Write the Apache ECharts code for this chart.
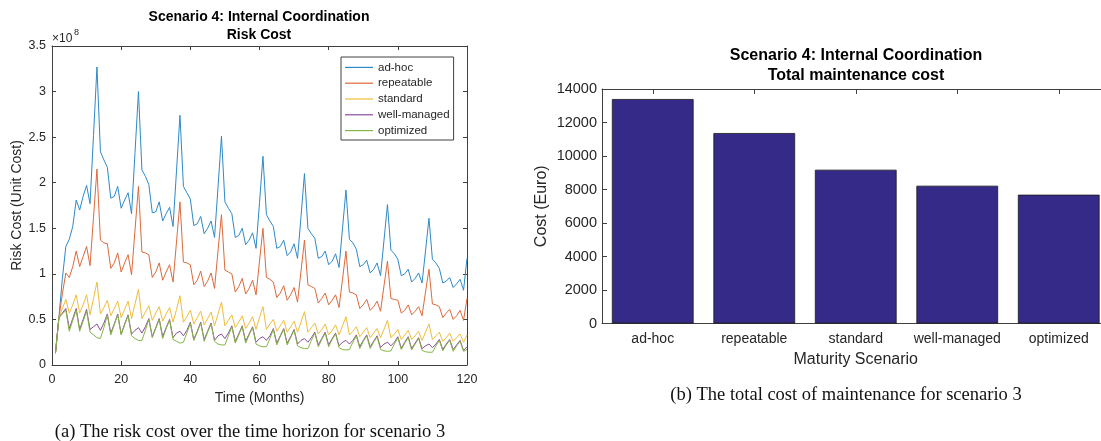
<!DOCTYPE html>
<html><head><meta charset="utf-8">
<script src="https://cdn.jsdelivr.net/npm/echarts@6/dist/echarts.min.js"></script>
<style>html,body{margin:0;padding:0;background:#fff}#c{width:1101px;height:441px}</style>
</head><body><div id="c"></div>
<script>
// ---- Left chart: risk cost (units of 1e8) per month 1..120 ----
const seriesNames = ['ad-hoc', 'repeatable', 'standard', 'well-managed', 'optimized'];
const adHoc = [
  0.13,0.52,0.95,1.30,1.38,1.52,1.81,1.70,1.85,1.97,1.77,2.52,
  3.27,2.34,2.25,2.17,1.83,1.85,1.96,1.72,1.81,1.89,1.66,2.33,
  3.00,2.14,2.07,1.98,1.67,1.68,1.79,1.58,1.66,1.73,1.52,2.13,
  2.74,1.96,1.89,1.82,1.53,1.55,1.63,1.44,1.50,1.58,1.40,1.95,
  2.51,1.79,1.72,1.66,1.40,1.42,1.50,1.32,1.37,1.45,1.28,1.78,
  2.29,1.65,1.58,1.52,1.28,1.30,1.37,1.20,1.24,1.33,1.17,1.63,
  2.10,1.50,1.44,1.39,1.17,1.19,1.25,1.10,1.14,1.22,1.07,1.50,
  1.92,1.38,1.34,1.27,1.08,1.10,1.15,1.01,1.05,1.12,0.98,1.37,
  1.76,1.26,1.22,1.16,0.98,1.00,1.05,0.91,0.95,1.01,0.90,1.25,
  1.61,1.16,1.12,1.06,0.90,0.92,0.96,0.85,0.89,0.94,0.82,1.17];
const repeatable = [
  0.13,0.52,0.78,1.01,0.96,1.08,1.25,1.08,1.19,1.30,1.09,1.62,
  2.15,1.37,1.34,1.33,1.06,1.12,1.23,1.02,1.12,1.21,0.99,1.48,
  1.96,1.24,1.23,1.21,0.96,1.02,1.12,0.93,1.02,1.10,0.91,1.35,
  1.79,1.13,1.12,1.10,0.88,0.93,1.03,0.86,0.92,1.01,0.84,1.25,
  1.65,1.04,1.02,1.00,0.80,0.86,0.95,0.78,0.84,0.93,0.77,1.14,
  1.50,0.96,0.94,0.91,0.74,0.79,0.87,0.71,0.77,0.85,0.69,1.03,
  1.37,0.88,0.86,0.84,0.68,0.73,0.79,0.66,0.71,0.77,0.63,0.94,
  1.25,0.80,0.79,0.77,0.62,0.66,0.72,0.60,0.64,0.70,0.59,0.87,
  1.14,0.73,0.72,0.71,0.57,0.60,0.66,0.55,0.59,0.64,0.54,0.80,
  1.05,0.67,0.66,0.64,0.52,0.57,0.61,0.50,0.54,0.60,0.49,0.73];
const standard = [
  0.13,0.52,0.62,0.72,0.57,0.66,0.77,0.57,0.66,0.77,0.55,0.73,
  0.91,0.56,0.63,0.71,0.54,0.62,0.70,0.52,0.61,0.70,0.51,0.67,
  0.83,0.51,0.58,0.65,0.49,0.57,0.64,0.48,0.56,0.63,0.47,0.61,
  0.76,0.47,0.53,0.60,0.45,0.52,0.59,0.44,0.51,0.58,0.43,0.56,
  0.69,0.43,0.49,0.55,0.41,0.47,0.54,0.40,0.46,0.53,0.39,0.52,
  0.64,0.39,0.45,0.50,0.37,0.43,0.49,0.36,0.42,0.48,0.36,0.47,
  0.585,0.36,0.41,0.46,0.34,0.39,0.45,0.33,0.38,0.44,0.33,0.43,
  0.53,0.33,0.37,0.42,0.31,0.36,0.41,0.30,0.35,0.40,0.30,0.39,
  0.49,0.30,0.34,0.39,0.28,0.33,0.38,0.28,0.32,0.37,0.27,0.36,
  0.45,0.28,0.32,0.36,0.26,0.30,0.35,0.26,0.30,0.34,0.25,0.33];
const wellManaged = [
  0.13,0.52,0.57,0.62,0.40,0.51,0.62,0.39,0.50,0.61,0.39,0.42,
  0.45,0.38,0.46,0.56,0.35,0.45,0.56,0.34,0.45,0.55,0.34,0.38,
  0.41,0.35,0.42,0.51,0.31,0.41,0.51,0.31,0.41,0.50,0.30,0.35,
  0.37,0.32,0.38,0.47,0.28,0.37,0.47,0.28,0.37,0.46,0.27,0.32,
  0.34,0.29,0.35,0.43,0.26,0.34,0.43,0.26,0.34,0.42,0.25,0.29,
  0.31,0.27,0.32,0.40,0.24,0.32,0.40,0.24,0.31,0.39,0.23,0.27,
  0.29,0.25,0.30,0.36,0.22,0.29,0.36,0.22,0.29,0.35,0.21,0.25,
  0.27,0.23,0.27,0.33,0.20,0.27,0.33,0.20,0.26,0.32,0.19,0.23,
  0.25,0.21,0.25,0.31,0.185,0.25,0.31,0.18,0.24,0.30,0.18,0.21,
  0.23,0.19,0.23,0.28,0.17,0.23,0.28,0.17,0.22,0.27,0.16,0.20];
const optimized = [
  0.13,0.52,0.56,0.60,0.37,0.49,0.60,0.37,0.48,0.59,0.36,0.33,
  0.30,0.29,0.41,0.55,0.33,0.44,0.55,0.33,0.44,0.54,0.32,0.29,
  0.27,0.27,0.38,0.50,0.30,0.40,0.50,0.29,0.40,0.49,0.28,0.26,
  0.24,0.25,0.35,0.46,0.27,0.36,0.46,0.26,0.36,0.45,0.26,0.23,
  0.22,0.22,0.32,0.42,0.24,0.33,0.42,0.24,0.33,0.41,0.23,0.21,
  0.20,0.20,0.29,0.39,0.22,0.31,0.39,0.22,0.30,0.38,0.21,0.19,
  0.18,0.18,0.27,0.35,0.20,0.28,0.35,0.20,0.28,0.34,0.19,0.17,
  0.165,0.17,0.25,0.32,0.18,0.26,0.32,0.18,0.25,0.31,0.17,0.155,
  0.15,0.155,0.23,0.30,0.17,0.24,0.30,0.165,0.23,0.29,0.16,0.145,
  0.14,0.14,0.21,0.27,0.155,0.22,0.27,0.15,0.21,0.26,0.15,0.17];
const lineColors = ['#2f89c8', '#dc6a3c', '#eebd3a', '#8a4d98', '#86b547'];

// ---- Right chart: total maintenance cost (Euro) ----
const maturity = ['ad-hoc', 'repeatable', 'standard', 'well-managed', 'optimized'];
const maintenanceCost = [13400, 11370, 9180, 8225, 7690];

const months = adHoc.map((_, i) => i + 1);
const allLines = [adHoc, repeatable, standard, wellManaged, optimized];

const AX = '#404040', TXT = '#262626';
const SANS = '"Liberation Sans", Arial, sans-serif';
const SERIF = '"Liberation Serif", serif';

function boxAxis(extra) {
  return Object.assign({
    axisLine: { show: true, onZero: false, lineStyle: { color: AX, width: 1 } },
    axisTick: { show: true, inside: true, length: 4, lineStyle: { color: AX } },
    splitLine: { show: false }
  }, extra);
}

const chart = echarts.init(document.getElementById('c'), null, { renderer: 'canvas' });

const lineSeries = allLines.map((arr, k) => ({
  type: 'line', name: seriesNames[k], xAxisIndex: 0, yAxisIndex: 0,
  data: arr.map((v, i) => [months[i], v]),
  symbol: 'none', showSymbol: false,
  lineStyle: { width: 1, color: lineColors[k] }, itemStyle: { color: lineColors[k] },
  animation: false
}));

chart.setOption({
  animation: false,
  backgroundColor: '#fff',
  grid: [
    { left: 52, top: 46, width: 415, height: 319, outerBoundsMode: 'none', containLabel: false },
    { left: 602, top: 89, width: 507.5, height: 234.5, outerBoundsMode: 'none', containLabel: false }
  ],
  xAxis: [
    boxAxis({ gridIndex: 0, type: 'value', position: 'bottom', min: 0, max: 120, interval: 20,
      axisLabel: { color: TXT, fontFamily: SANS, fontSize: 12.5, margin: 8 },
      name: 'Time (Months)', nameLocation: 'middle', nameGap: 25,
      nameTextStyle: { color: TXT, fontFamily: SANS, fontSize: 14 } }),
    boxAxis({ gridIndex: 0, type: 'value', position: 'top', min: 0, max: 120, interval: 20,
      axisLabel: { show: false } }),
    boxAxis({ gridIndex: 1, type: 'category', position: 'bottom', data: maturity,
      axisTick: { show: true, inside: true, length: 5, alignWithLabel: true, lineStyle: { color: AX } },
      axisLabel: { color: TXT, fontFamily: SANS, fontSize: 14, margin: 9, interval: 0 },
      name: 'Maturity Scenario', nameLocation: 'middle', nameGap: 28,
      nameTextStyle: { color: TXT, fontFamily: SANS, fontSize: 16 } }),
    boxAxis({ gridIndex: 1, type: 'category', position: 'top', data: maturity,
      axisTick: { show: true, inside: true, length: 5, alignWithLabel: true, interval: 0, lineStyle: { color: AX } },
      axisLabel: { show: false } })
  ],
  yAxis: [
    boxAxis({ gridIndex: 0, type: 'value', position: 'left', min: 0, max: 3.5, interval: 0.5,
      axisLabel: { color: TXT, fontFamily: SANS, fontSize: 12.5, margin: 6 },
      name: 'Risk Cost (Unit Cost)', nameLocation: 'middle', nameGap: 28,
      nameTextStyle: { color: TXT, fontFamily: SANS, fontSize: 14 } }),
    boxAxis({ gridIndex: 0, type: 'value', position: 'right', min: 0, max: 3.5, interval: 0.5,
      axisLabel: { show: false } }),
    boxAxis({ gridIndex: 1, type: 'value', position: 'left', min: 0, max: 14000, interval: 2000,
      axisTick: { show: true, inside: true, length: 5, lineStyle: { color: AX } },
      axisLabel: { color: TXT, fontFamily: SANS, fontSize: 14.5, margin: 5, formatter: v => String(v) },
      name: 'Cost (Euro)', nameLocation: 'middle', nameGap: 52,
      nameTextStyle: { color: TXT, fontFamily: SANS, fontSize: 16 } }),
    boxAxis({ gridIndex: 1, type: 'value', position: 'right', min: 0, max: 14000, interval: 2000,
      axisLabel: { show: false } })
  ],
  legend: {
    data: seriesNames, orient: 'vertical', left: 341, top: 57,
    icon: 'rect', itemWidth: 28, itemHeight: 1.2, itemGap: 0,
    padding: [2.5, 4, 1.5, 4],
    backgroundColor: '#fff', borderColor: '#404040', borderWidth: 1,
    textStyle: { color: TXT, fontFamily: SANS, fontSize: 11.5, lineHeight: 15.8 },
    selectedMode: false
  },
  series: lineSeries.concat([{
    type: 'bar', xAxisIndex: 2, yAxisIndex: 2, data: maintenanceCost, barWidth: '80.5%',
    itemStyle: { color: '#352a87', borderColor: '#1a1a1a', borderWidth: 0.8 },
    animation: false
  }]),
  graphic: [
    { type: 'text', x: 259, y: 17, style: { text: 'Scenario 4: Internal Coordination', font: 'bold 14px ' + SANS, fill: '#000', textAlign: 'center', textVerticalAlign: 'middle', align: 'center', verticalAlign: 'middle' } },
    { type: 'text', x: 259, y: 35, style: { text: 'Risk Cost', font: 'bold 14px ' + SANS, fill: '#000', textAlign: 'center', textVerticalAlign: 'middle', align: 'center', verticalAlign: 'middle' } },
    { type: 'text', x: 52, y: 39, style: { text: '×10', font: '12px ' + SANS, fill: TXT, textAlign: 'left', textVerticalAlign: 'middle', align: 'left', verticalAlign: 'middle' } },
    { type: 'text', x: 74, y: 33, style: { text: '8', font: '9px ' + SANS, fill: TXT, textAlign: 'left', textVerticalAlign: 'middle', align: 'left', verticalAlign: 'middle' } },
    { type: 'text', x: 856, y: 56, style: { text: 'Scenario 4: Internal Coordination', font: 'bold 16px ' + SANS, fill: '#000', textAlign: 'center', textVerticalAlign: 'middle', align: 'center', verticalAlign: 'middle' } },
    { type: 'text', x: 856, y: 76, style: { text: 'Total maintenance cost', font: 'bold 16px ' + SANS, fill: '#000', textAlign: 'center', textVerticalAlign: 'middle', align: 'center', verticalAlign: 'middle' } },
    { type: 'text', x: 250, y: 432, style: { text: '(a) The risk cost over the time horizon for scenario 3', font: '18.5px ' + SERIF, fill: '#111', textAlign: 'center', textVerticalAlign: 'middle', align: 'center', verticalAlign: 'middle' } },
    { type: 'text', x: 846, y: 395, style: { text: '(b) The total cost of maintenance for scenario 3', font: '18.5px ' + SERIF, fill: '#111', textAlign: 'center', textVerticalAlign: 'middle', align: 'center', verticalAlign: 'middle' } }
  ]
});
</script></body></html>
